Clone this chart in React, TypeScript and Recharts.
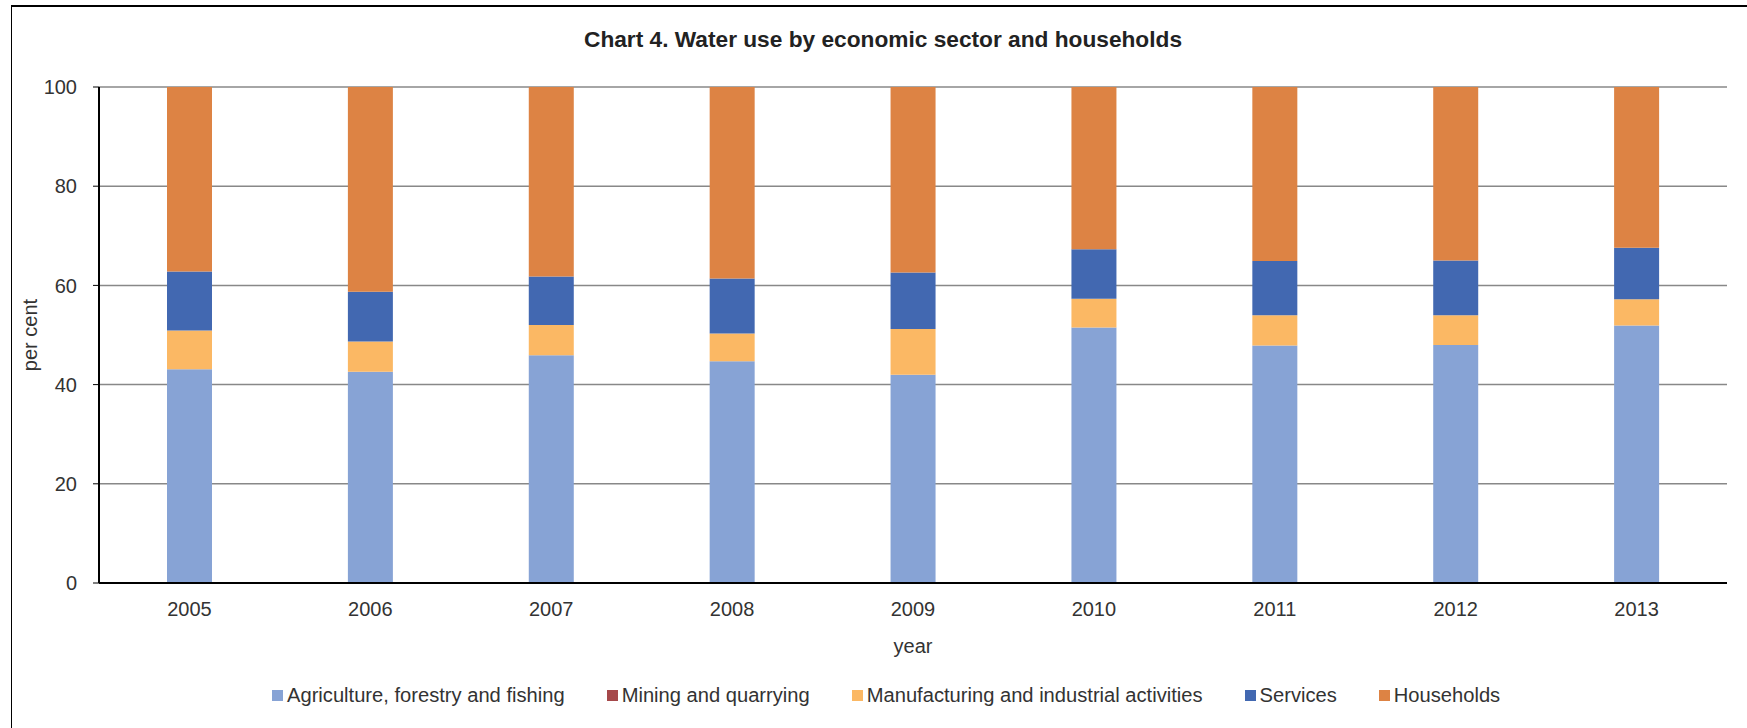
import React from 'react';
import { BarChart, Bar, XAxis, YAxis, CartesianGrid, Legend } from 'recharts';

const YEARS = ['2005', '2006', '2007', '2008', '2009', '2010', '2011', '2012', '2013'];

// shares in per cent, stacked bottom to top
const AGRICULTURE = [43.1, 42.6, 45.9, 44.7, 42.0, 51.5, 47.9, 48.0, 51.9];
const MINING = [0, 0, 0, 0, 0, 0, 0, 0, 0];
const MANUFACTURING = [7.8, 6.1, 6.1, 5.6, 9.2, 5.8, 6.1, 6.0, 5.3];
const SERVICES = [11.9, 10.0, 9.8, 11.1, 11.4, 10.0, 10.9, 11.0, 10.4];
const HOUSEHOLDS = [37.2, 41.3, 38.2, 38.6, 37.4, 32.7, 35.1, 35.0, 32.4];

const Y_TICKS = [0, 20, 40, 60, 80, 100];

const SERIES = [
    { key: 'agriculture', name: 'Agriculture, forestry and fishing', color: '#87A3D5' },
    { key: 'mining', name: 'Mining and quarrying', color: '#A5484A' },
    { key: 'manufacturing', name: 'Manufacturing and industrial activities', color: '#FBB864' },
    { key: 'services', name: 'Services', color: '#4268B1' },
    { key: 'households', name: 'Households', color: '#DD8344' },
];

const data = YEARS.map((year, i) => ({
    year,
    agriculture: AGRICULTURE[i],
    mining: MINING[i],
    manufacturing: MANUFACTURING[i],
    services: SERVICES[i],
    households: HOUSEHOLDS[i],
}));

const FONT = '"Liberation Sans", Arial, sans-serif';
const TEXT = '#333333';

const LegendContent = () => (
    <div style={{ display: 'flex', alignItems: 'center', paddingLeft: 272, lineHeight: '23px', fontFamily: FONT, fontSize: 20.15, color: TEXT }}>
        {SERIES.map((s) => (
            <div key={s.key} style={{ display: 'flex', alignItems: 'center', marginRight: 42, whiteSpace: 'nowrap' }}>
                <div style={{ width: 11, height: 11, backgroundColor: s.color, marginRight: 4 }}></div>
                <span>{s.name}</span>
            </div>
        ))}
    </div>
);

const App = () => {
    return (
        <div style={{ position: 'absolute', left: 0, top: 0, width: 1747, height: 728, background: '#fff', overflow: 'hidden' }}>
            {/* frame, cut off at right and bottom */}
            <div style={{ position: 'absolute', left: 11, top: 5, width: 1760, height: 740, borderTop: '2px solid #000', borderLeft: '1.5px solid #000' }}></div>

            <div style={{ position: 'absolute', left: 0, top: 26, width: 1766, textAlign: 'center', fontFamily: FONT, fontWeight: 'bold', fontSize: 22.7, lineHeight: '26px', color: '#222' }}>
                Chart 4. Water use by economic sector and households
            </div>

            <div style={{ position: 'absolute', left: 0, top: 0 }}>
                <BarChart width={1747} height={728} data={data} margin={{ top: 87, right: 20, left: 0, bottom: 65 }} barSize={45}>
                    <CartesianGrid vertical={false} stroke="#888888" strokeWidth={1.5} />
                    <XAxis
                        dataKey="year"
                        height={80}
                        tickLine={false}
                        tickSize={0}
                        tickMargin={19}
                        axisLine={{ stroke: '#000', strokeWidth: 2 }}
                        tick={{ fill: TEXT, fontSize: 20, fontFamily: FONT }}
                        label={{ value: 'year', position: 'insideBottom', offset: 10, fill: TEXT, fontSize: 20, fontFamily: FONT }}
                    />
                    <YAxis
                        width={99}
                        domain={[0, 100]}
                        ticks={Y_TICKS}
                        tickSize={6}
                        tickMargin={16}
                        tickLine={{ stroke: '#000', strokeWidth: 1 }}
                        axisLine={{ stroke: '#000', strokeWidth: 2 }}
                        tick={{ fill: TEXT, fontSize: 20, fontFamily: FONT }}
                        label={{ value: 'per cent', angle: -90, position: 'center', dx: -20, fill: TEXT, fontSize: 20, fontFamily: FONT }}
                    />
                    <Legend
                        layout="horizontal"
                        verticalAlign="middle"
                        align="center"
                        wrapperStyle={{ top: 684, left: 0, width: 1747 }}
                        content={<LegendContent />}
                    />
                    {SERIES.map((s) => (
                        <Bar key={s.key} dataKey={s.key} name={s.name} stackId="a" fill={s.color} isAnimationActive={false} />
                    ))}
                </BarChart>
            </div>
        </div>
    );
};

export default App;
